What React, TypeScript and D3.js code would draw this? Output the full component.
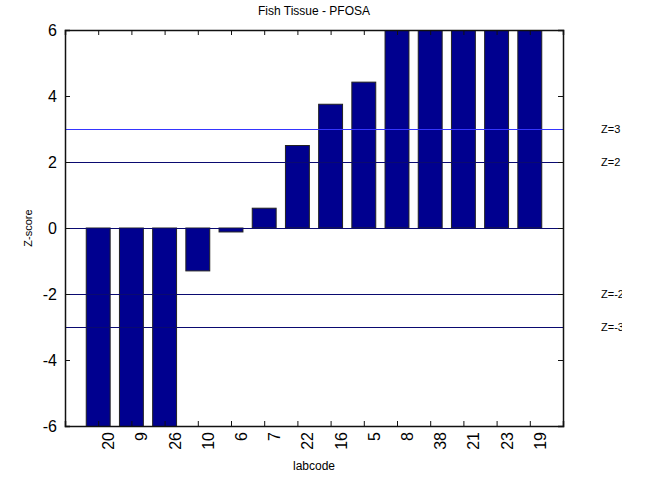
import { useEffect, useRef } from 'react';
import * as d3 from 'd3';

const labcodes = ['20', '9', '26', '10', '6', '7', '22', '16', '5', '8', '38', '21', '23', '19'];
const zscores = [-8.5, -8.0, -7.2, -1.3, -0.12, 0.6, 2.5, 3.75, 4.42, 6.8, 7.3, 7.9, 8.6, 9.4];
const yTicks = [-6, -4, -2, 0, 2, 4, 6];
const refLines = [3, 2, 0, -2, -3];
const refLabels = [
	{ z: 3, text: 'Z=3' },
	{ z: 2, text: 'Z=2' },
	{ z: -2, text: 'Z=-2' },
	{ z: -3, text: 'Z=-3' },
];

const W = 645;
const H = 479;

function App() {
	const ref = useRef<SVGSVGElement>(null);

	useEffect(() => {
		const margin = { top: 30, right: 82, bottom: 53, left: 65 };
		const width = W - margin.left - margin.right;
		const height = H - margin.top - margin.bottom;
		const font = 'Liberation Sans, Arial, sans-serif';

		const root = d3.select(ref.current);
		root.selectAll('*').remove();

		const defs = root.append('defs');
		defs.append('clipPath').attr('id', 'plotclip')
			.append('rect').attr('width', width).attr('height', height);
		defs.append('clipPath').attr('id', 'textclip')
			.append('rect').attr('x', 0).attr('y', 0).attr('width', 622).attr('height', H);

		const svg = root.append('g')
			.attr('transform', `translate(${margin.left},${margin.top})`);

		const x = d3.scaleLinear().domain([0, labcodes.length + 1]).range([0, width]);
		const y = d3.scaleLinear().domain([-6, 6]).range([height, 0]);
		const bw = x(0.72) - x(0);

		// bars
		svg.append('g')
			.attr('clip-path', 'url(#plotclip)')
			.selectAll('rect')
			.data(zscores)
			.enter()
			.append('rect')
			.attr('x', (d, i) => x(i + 1) - bw / 2)
			.attr('width', bw)
			.attr('y', d => y(Math.max(0, d)))
			.attr('height', d => Math.abs(y(d) - y(0)))
			.attr('fill', '#00008f')
			.attr('stroke', '#222')
			.attr('stroke-width', 1);

		// reference lines
		svg.append('g')
			.selectAll('line')
			.data(refLines)
			.enter()
			.append('line')
			.attr('x1', 0)
			.attr('x2', width)
			.attr('y1', d => Math.round(y(d)) + 0.5)
			.attr('y2', d => Math.round(y(d)) + 0.5)
			.attr('stroke', d => (d === 3 ? '#3535ff' : '#0a0a70'))
			.attr('stroke-width', 1);

		// axes: box with inward ticks
		const ticksBottom = d3.range(1, labcodes.length + 1);
		const xb = svg.append('g')
			.attr('transform', `translate(0,${height})`)
			.call(d3.axisBottom(x).tickValues(ticksBottom).tickSize(-5).tickFormat(() => ''));
		const xt = svg.append('g')
			.call(d3.axisTop(x).tickValues(ticksBottom).tickSize(-5).tickFormat(() => ''));
		const yl = svg.append('g')
			.call(d3.axisLeft(y).tickValues(yTicks).tickSize(-5).tickPadding(8).tickFormat(d => String(d)));
		const yr = svg.append('g')
			.attr('transform', `translate(${width},0)`)
			.call(d3.axisRight(y).tickValues(yTicks).tickSize(-5).tickFormat(() => ''));
		[xb, xt, yl, yr].forEach(g => {
			g.select('.domain').attr('stroke', '#111').attr('stroke-width', 1.5);
			g.selectAll('.tick line').attr('stroke', '#111');
		});
		yl.selectAll('.tick text')
			.attr('font-family', font)
			.attr('font-size', 16)
			.attr('fill', '#000');

		// rotated category labels
		svg.append('g')
			.selectAll('text')
			.data(labcodes)
			.enter()
			.append('text')
			.attr('transform', (d, i) => `translate(${x(i + 1) + 16},${height + 6}) rotate(-90)`)
			.attr('text-anchor', 'end')
			.attr('font-family', font)
			.attr('font-size', 16)
			.text(d => d);

		// titles
		svg.append('text')
			.attr('x', width / 2)
			.attr('y', -15)
			.attr('text-anchor', 'middle')
			.attr('font-family', font)
			.attr('font-size', 12)
			.text('Fish Tissue - PFOSA');
		svg.append('text')
			.attr('x', width / 2)
			.attr('y', height + 44)
			.attr('text-anchor', 'middle')
			.attr('font-family', font)
			.attr('font-size', 12)
			.text('labcode');
		svg.append('text')
			.attr('transform', `translate(-33,${y(0)}) rotate(-90)`)
			.attr('text-anchor', 'middle')
			.attr('font-family', font)
			.attr('font-size', 11)
			.text('Z-score');

		// Z labels on the right
		root.append('g')
			.attr('clip-path', 'url(#textclip)')
			.selectAll('text')
			.data(refLabels)
			.enter()
			.append('text')
			.attr('x', 601)
			.attr('y', d => margin.top + y(d.z) + 4)
			.attr('font-family', font)
			.attr('font-size', 11)
			.text(d => d.text);
	}, []);

	return (
		<svg ref={ref} width={W} height={H}
			style={{ position: 'absolute', left: 0, top: 0, background: '#fff' }} />
	);
}

export default App;
